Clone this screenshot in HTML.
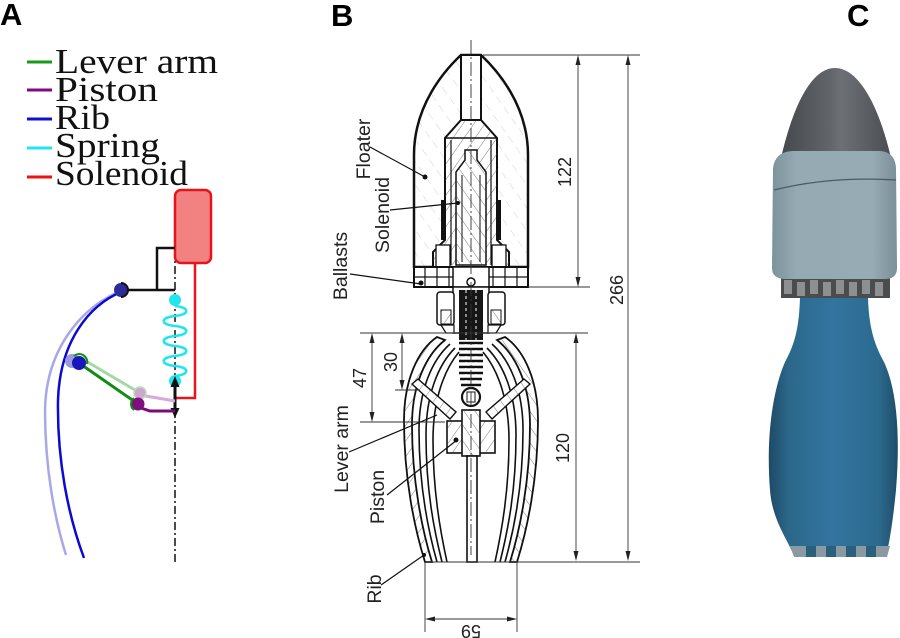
<!DOCTYPE html>
<html><head><meta charset="utf-8"><style>
html,body{margin:0;padding:0;background:#fff;}
svg{display:block;}
</style></head><body>
<svg width="900" height="638" viewBox="0 0 900 638" xmlns="http://www.w3.org/2000/svg">
<defs>
<pattern id="hL" width="13" height="13" patternUnits="userSpaceOnUse" patternTransform="rotate(-35)">
<line x1="0" y1="0" x2="0" y2="13" stroke="#d2d2d2" stroke-width="1" stroke-dasharray="8 5"/></pattern>
<pattern id="hD" width="9" height="9" patternUnits="userSpaceOnUse" patternTransform="rotate(35)">
<line x1="0" y1="0" x2="0" y2="9" stroke="#444" stroke-width="0.7"/></pattern>
<pattern id="hD2" width="9" height="9" patternUnits="userSpaceOnUse" patternTransform="rotate(-35)">
<line x1="0" y1="0" x2="0" y2="9" stroke="#444" stroke-width="0.7"/></pattern>
<linearGradient id="cone" x1="0" x2="1" y1="0" y2="0">
<stop offset="0" stop-color="#45484d"/><stop offset="0.45" stop-color="#62656a"/><stop offset="0.55" stop-color="#6d7075"/><stop offset="1" stop-color="#4a4d52"/></linearGradient>
<linearGradient id="collar" x1="0" x2="1" y1="0" y2="0">
<stop offset="0" stop-color="#7d939c"/><stop offset="0.2" stop-color="#95aab3"/><stop offset="0.8" stop-color="#97abb4"/><stop offset="1" stop-color="#7a8f98"/></linearGradient>
<linearGradient id="bulb" x1="0" x2="1" y1="0" y2="0">
<stop offset="0" stop-color="#1d4a66"/><stop offset="0.15" stop-color="#2c678a"/><stop offset="0.5" stop-color="#3275a0"/><stop offset="0.85" stop-color="#2c6a8e"/><stop offset="1" stop-color="#1f4d69"/></linearGradient>
</defs>
<rect width="900" height="638" fill="#fff"/>

<!-- ===== Panel A ===== -->
<text x="0" y="25" font-family="Liberation Sans, sans-serif" font-weight="bold" font-size="31">A</text>
<g stroke-width="3">
<line x1="27" y1="62" x2="52" y2="62" stroke="#1a9a1a"/>
<line x1="27" y1="90" x2="52" y2="90" stroke="#800a80"/>
<line x1="27" y1="119" x2="52" y2="119" stroke="#1010d0"/>
<line x1="27" y1="148" x2="52" y2="148" stroke="#22e5f0"/>
<line x1="27" y1="177" x2="52" y2="177" stroke="#ee1111"/>
</g>
<g font-family="Liberation Serif, serif" font-size="35" fill="#111">
<text x="55" y="73" textLength="163" lengthAdjust="spacingAndGlyphs">Lever arm</text>
<text x="55" y="101" textLength="103" lengthAdjust="spacingAndGlyphs">Piston</text>
<text x="55" y="129" textLength="55" lengthAdjust="spacingAndGlyphs">Rib</text>
<text x="55" y="157" textLength="105" lengthAdjust="spacingAndGlyphs">Spring</text>
<text x="55" y="185" textLength="133" lengthAdjust="spacingAndGlyphs">Solenoid</text>
</g>
<line x1="175" y1="250" x2="175" y2="563" stroke="#111" stroke-width="1.5" stroke-dasharray="8 3 2 3"/>
<rect x="175" y="190" width="36" height="73" rx="6" fill="#f28282" stroke="#e8141c" stroke-width="2.5"/>
<polyline points="195,263 195,398 175,398" fill="none" stroke="#e8141c" stroke-width="2.5"/>
<polyline points="175,248 157,248 157,290" fill="none" stroke="#111" stroke-width="2.5"/>
<line x1="125" y1="290" x2="175" y2="290" stroke="#111" stroke-width="2.5"/>
<path d="M116,293 C80,310 46,350 45,410 C45,470 55,520 66,555" fill="none" stroke="#a8a8e8" stroke-width="2.5"/>
<path d="M121,292 C90,305 60,340 58,400 C57,460 68,515 84,558" fill="none" stroke="#0a0ad0" stroke-width="2.5"/>
<circle cx="121" cy="290" r="7" fill="#2c2c9a"/>
<path d="M121,283 A7,7 0 0 1 121,297" fill="none" stroke="#111" stroke-width="2"/>
<path d="M175,306 C190,307.5 190,314.5 175,316 C160,317.5 160,324.5 175,326 C190,327.5 190,334.5 175,336 C160,337.5 160,344.5 175,346 C190,347.5 190,354.5 175,356 C160,357.5 160,364.5 175,366 C190,367.5 190,374.5 175,376" fill="none" stroke="#22e5f0" stroke-width="2.5"/>
<circle cx="175" cy="300" r="6" fill="#22e5f0"/>
<circle cx="175" cy="381" r="6" fill="#22e5f0"/>
<line x1="175" y1="384" x2="175" y2="410" stroke="#111" stroke-width="3"/>
<polygon points="175,376 170.5,387 179.5,387" fill="#111"/>
<polygon points="170.5,408 179.5,408 175,418" fill="#111"/>
<line x1="79" y1="357" x2="140" y2="393" stroke="#a6d8a6" stroke-width="3"/>
<line x1="140" y1="395" x2="175" y2="401" stroke="#d9aad9" stroke-width="3"/>
<circle cx="140" cy="393" r="6" fill="#cfa6cf" stroke="#b8dcb8" stroke-width="1.5"/>
<line x1="79" y1="363" x2="138" y2="404" stroke="#128c12" stroke-width="3"/>
<path d="M138,407 L150,411 L175,411" fill="none" stroke="#7a0a7a" stroke-width="3"/>
<circle cx="138" cy="404" r="6.5" fill="#7e0f7e"/>
<path d="M134,398 A7.5,7.5 0 0 0 134,410" fill="none" stroke="#128c12" stroke-width="2"/>
<circle cx="72" cy="361" r="7" fill="#9a9adc"/>
<circle cx="79" cy="363" r="7" fill="#1818b8"/>
<path d="M74,356 A8,8 0 0 1 87,364" fill="none" stroke="#128c12" stroke-width="2"/>

<!-- ===== Panel B ===== -->
<text x="331" y="26" font-family="Liberation Sans, sans-serif" font-weight="bold" font-size="31">B</text>
<path d="M461,55 L481,55 C497,70 528,105 528,155 L528,267 L414,267 L414,155 C414,105 445,70 461,55 Z" fill="url(#hL)" stroke="#111" stroke-width="2.5"/>
<line x1="461" y1="55" x2="461" y2="120" stroke="#111" stroke-width="2"/>
<line x1="481" y1="55" x2="481" y2="120" stroke="#111" stroke-width="2"/>
<rect x="462" y="56" width="18" height="64" fill="#fff"/>
<path d="M461,120 L445,138 L445,240 L433,252 L433,267 L509,267 L509,252 L497,240 L497,138 L481,120 Z" fill="#fff" stroke="#111" stroke-width="2"/>
<path d="M461,120 L445,138 L445,240 L433,252 L433,267 L509,267 L509,252 L497,240 L497,138 L481,120 Z" fill="url(#hD)"/>
<line x1="445" y1="138" x2="497" y2="138" stroke="#111" stroke-width="1.5"/>
<line x1="451" y1="140" x2="451" y2="265" stroke="#111" stroke-width="1.2"/>
<line x1="491" y1="140" x2="491" y2="265" stroke="#111" stroke-width="1.2"/>
<rect x="441" y="200" width="5" height="40" fill="#111"/>
<rect x="496" y="200" width="5" height="40" fill="#111"/>
<path d="M456,265 L456,172 L465,160 L465,150 L477,150 L477,160 L486,172 L486,265 Z" fill="#fff" stroke="#111" stroke-width="1.5"/>
<path d="M456,265 L456,172 L465,160 L465,150 L477,150 L477,160 L486,172 L486,265 Z" fill="url(#hD2)"/>
<line x1="462" y1="175" x2="462" y2="262" stroke="#111" stroke-width="1"/>
<line x1="480" y1="175" x2="480" y2="262" stroke="#111" stroke-width="1"/>
<rect x="436" y="245" width="14" height="22" fill="#fff" stroke="#111" stroke-width="1.3"/>
<rect x="492" y="245" width="14" height="22" fill="#fff" stroke="#111" stroke-width="1.3"/>
<rect x="414" y="267" width="114" height="20" fill="#fff" stroke="#111" stroke-width="2"/>
<g stroke="#111" stroke-width="1.2">
<line x1="414" y1="277" x2="453" y2="277"/><line x1="489" y1="277" x2="528" y2="277"/>
<line x1="425" y1="267" x2="425" y2="287"/><line x1="437" y1="267" x2="437" y2="287"/><line x1="449" y1="267" x2="449" y2="287"/>
<line x1="493" y1="267" x2="493" y2="287"/><line x1="505" y1="267" x2="505" y2="287"/><line x1="517" y1="267" x2="517" y2="287"/>
</g>
<rect x="453" y="267" width="36" height="20" fill="#fff" stroke="#111" stroke-width="1.5"/>
<circle cx="471" cy="282" r="4" fill="none" stroke="#111" stroke-width="1.5"/>
<rect x="453" y="287" width="36" height="46" fill="#fff" stroke="#111" stroke-width="1.5"/>
<rect x="437" y="292" width="17" height="33" rx="3" fill="#fff" stroke="#111" stroke-width="1.5"/>
<rect x="488" y="292" width="17" height="33" rx="3" fill="#fff" stroke="#111" stroke-width="1.5"/>
<rect x="441" y="310" width="10" height="14" fill="url(#hD)" stroke="#111" stroke-width="1"/>
<rect x="491" y="310" width="10" height="14" fill="url(#hD2)" stroke="#111" stroke-width="1"/>
<path d="M441,325 L446,333 L454,333 L454,325 Z M501,325 L496,333 L488,333 L488,325 Z" fill="#fff" stroke="#111" stroke-width="1.2"/>
<path d="M437,337 C418,350 404,380 404,420 C404,480 415,530 425,562 L432,562 C422,530 412,480 412,425 C412,385 426,355 445,340 Z" fill="url(#hD)" stroke="#111" stroke-width="1.8"/>
<path d="M505,337 C524,350 538,380 538,420 C538,480 527,530 517,562 L510,562 C520,530 530,480 530,425 C530,385 516,355 497,340 Z" fill="url(#hD2)" stroke="#111" stroke-width="1.8"/>
<g fill="none" stroke="#111" stroke-width="1.6">
<path d="M450,344 C432,360 419,390 419,430 C419,485 428,530 437,562"/>
<path d="M455,348 C438,365 426,395 426,435 C426,490 434,530 442,562"/>
<path d="M459,352 C444,370 433,400 433,440 C433,490 440,530 447,562"/>
<path d="M492,344 C510,360 523,390 523,430 C523,485 514,530 505,562"/>
<path d="M487,348 C504,365 516,395 516,435 C516,490 508,530 500,562"/>
<path d="M483,352 C498,370 509,400 509,440 C509,490 502,530 495,562"/>
</g>
<rect x="459" y="290" width="24" height="50" fill="#161616"/>
<g stroke="#111" stroke-width="2.6">
<line x1="459" y1="343" x2="483" y2="343"/><line x1="459" y1="349" x2="483" y2="349"/>
<line x1="459" y1="355" x2="483" y2="355"/><line x1="459" y1="361" x2="483" y2="361"/>
<line x1="459" y1="367" x2="483" y2="367"/><line x1="459" y1="373" x2="483" y2="373"/>
<line x1="460" y1="379" x2="482" y2="379"/><line x1="461" y1="385" x2="481" y2="385"/>
</g>
<line x1="466" y1="290" x2="466" y2="388" stroke="#fff" stroke-width="1" stroke-dasharray="3 3"/>
<line x1="476" y1="290" x2="476" y2="388" stroke="#fff" stroke-width="1" stroke-dasharray="3 3"/>
<circle cx="471" cy="397" r="9" fill="#fff" stroke="#111" stroke-width="2.2"/>
<rect x="467" y="392" width="8" height="10" fill="none" stroke="#111" stroke-width="1"/>
<polygon points="412,384 418,379 456,412 450,419" fill="#fff" stroke="#111" stroke-width="1.4"/>
<polygon points="412,384 418,379 456,412 450,419" fill="url(#hD)"/>
<polygon points="530,384 524,379 486,412 492,419" fill="#fff" stroke="#111" stroke-width="1.4"/>
<polygon points="530,384 524,379 486,412 492,419" fill="url(#hD2)"/>
<rect x="447" y="421" width="48" height="32" fill="#fff" stroke="#111" stroke-width="1.6"/>
<rect x="447" y="421" width="48" height="32" fill="url(#hD)"/>
<rect x="462" y="410" width="18" height="46" fill="#fff" stroke="#111" stroke-width="1.6"/>
<rect x="462" y="410" width="18" height="46" fill="url(#hD2)"/>
<circle cx="456" cy="440" r="2.5" fill="#111"/>
<rect x="467" y="456" width="10" height="106" fill="#fff" stroke="#111" stroke-width="1.6"/>
<line x1="471" y1="40" x2="471" y2="555" stroke="#333" stroke-width="0.9" stroke-dasharray="14 3 2 3"/>

<g stroke="#333" stroke-width="0.9" fill="none">
<line x1="483" y1="55" x2="640" y2="55"/>
<line x1="528" y1="287" x2="590" y2="287"/>
<line x1="578" y1="58" x2="578" y2="284"/>
<line x1="628" y1="58" x2="628" y2="558"/>
<line x1="360" y1="333" x2="588" y2="333"/>
<line x1="425" y1="562" x2="640" y2="562"/>
<line x1="576" y1="336" x2="576" y2="559"/>
<line x1="372" y1="336" x2="372" y2="419"/>
<line x1="360" y1="422" x2="445" y2="422"/>
<line x1="402" y1="336" x2="402" y2="387"/>
<line x1="395" y1="390" x2="420" y2="390"/>
<line x1="425" y1="562" x2="425" y2="632"/>
<line x1="517" y1="562" x2="517" y2="632"/>
<line x1="428" y1="619" x2="514" y2="619"/>
</g>
<g fill="#222">
<polygon points="578,55 575.5,65 580.5,65"/><polygon points="578,287 575.5,277 580.5,277"/>
<polygon points="628,55 625.5,65 630.5,65"/><polygon points="628,561 625.5,551 630.5,551"/>
<polygon points="576,333 573.5,343 578.5,343"/><polygon points="576,561 573.5,551 578.5,551"/>
<polygon points="372,333 369.5,343 374.5,343"/><polygon points="372,422 369.5,412 374.5,412"/>
<polygon points="402,333 399.5,343 404.5,343"/><polygon points="402,390 399.5,380 404.5,380"/>
<polygon points="425,619 435,616.5 435,621.5"/><polygon points="517,619 507,616.5 507,621.5"/>
</g>
<g font-family="Liberation Sans, sans-serif" font-size="18" fill="#222" text-anchor="middle">
<text x="571" y="172" transform="rotate(-90 571 172)">122</text>
<text x="623" y="290" transform="rotate(-90 623 290)">266</text>
<text x="569" y="448" transform="rotate(-90 569 448)">120</text>
<text x="366" y="378" transform="rotate(-90 366 378)">47</text>
<text x="397" y="362" transform="rotate(-90 397 362)">30</text>
<text x="471" y="625" transform="rotate(180 471 625)">59</text>
</g>
<g stroke="#111" stroke-width="1.2">
<line x1="370" y1="147" x2="425" y2="177"/>
<line x1="390" y1="210" x2="458" y2="203"/>
<line x1="350" y1="274" x2="421" y2="284"/>
<line x1="349" y1="452" x2="437" y2="415"/>
<line x1="387" y1="495" x2="457" y2="440"/>
<line x1="381" y1="585" x2="424" y2="555"/>
</g>
<g fill="#111">
<circle cx="425" cy="177" r="2.5"/><circle cx="458" cy="203" r="2"/>
<circle cx="421" cy="283" r="2.5"/><circle cx="424" cy="555" r="2"/>
</g>
<g font-family="Liberation Sans, sans-serif" font-size="19.5" fill="#222" text-anchor="middle">
<text x="370" y="149" transform="rotate(-90 370 149)">Floater</text>
<text x="389" y="215" transform="rotate(-90 389 215)">Solenoid</text>
<text x="347" y="266" transform="rotate(-90 347 266)">Ballasts</text>
<text x="348" y="449" transform="rotate(-90 348 449)">Lever arm</text>
<text x="384" y="497" transform="rotate(-90 384 497)">Piston</text>
<text x="381" y="589" transform="rotate(-90 381 589)">Rib</text>
</g>

<!-- ===== Panel C ===== -->
<text x="847" y="26" font-family="Liberation Sans, sans-serif" font-weight="bold" font-size="31">C</text>
<path d="M800,298 L868,298 C869,325 873,342 884,362 C898,392 900,440 896,490 C893,520 890,540 886,556 L794,556 C788,540 772,520 770,490 C766,440 772,392 785,362 C796,342 799,325 800,298 Z" fill="url(#bulb)"/>
<path d="M790,546 L890,546 L887,557 L794,557 Z" fill="#8a9aa3"/>
<g fill="#2a5f7e">
<rect x="806" y="546" width="10" height="11"/><rect x="826" y="546" width="10" height="11"/>
<rect x="846" y="546" width="10" height="11"/><rect x="866" y="546" width="10" height="11"/>
</g>
<rect x="781" y="276" width="109" height="22" fill="#4b4c4e"/>
<g fill="#8e8f91">
<rect x="784" y="280" width="8" height="14"/><rect x="797" y="282" width="8" height="14"/>
<rect x="810" y="280" width="8" height="14"/><rect x="823" y="282" width="8" height="14"/>
<rect x="836" y="280" width="8" height="14"/><rect x="849" y="282" width="8" height="14"/>
<rect x="862" y="280" width="8" height="14"/><rect x="875" y="282" width="8" height="14"/>
</g>
<path d="M835,68 C860,68 880,110 891,158 L781,158 C792,110 810,68 835,68 Z" fill="url(#cone)"/>
<path d="M773,168 Q775,152 792,151 L880,151 Q895,152 896,168 L897,268 Q897,279 885,279 L786,279 Q772,279 772,268 Z" fill="url(#collar)"/>
<path d="M774,190 Q830,176 896,180" fill="none" stroke="#4d5a60" stroke-width="1.3"/>
</svg>
</body></html>
